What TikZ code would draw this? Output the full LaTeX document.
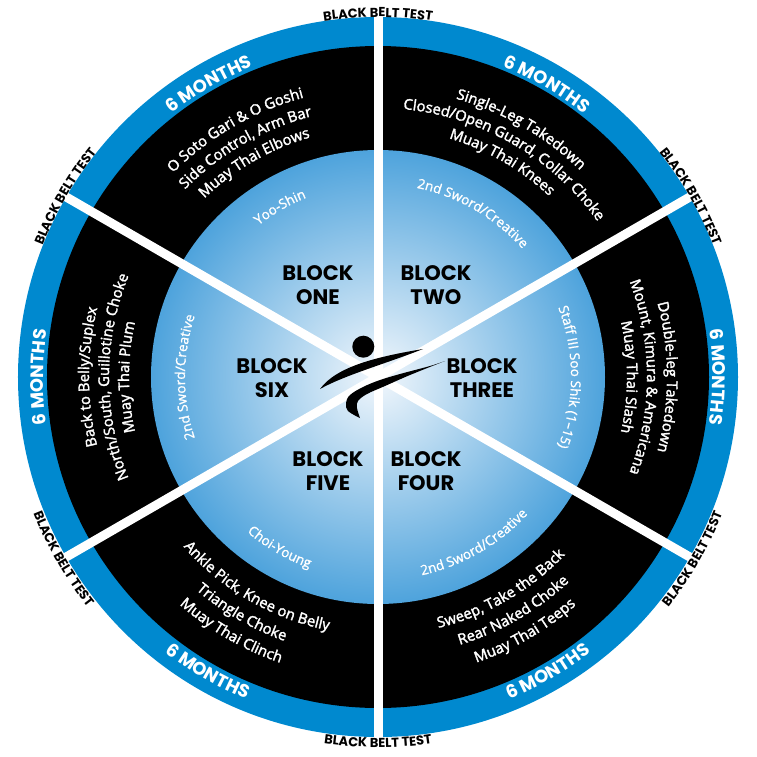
\documentclass[tikz,border=0pt]{standalone}
\usepackage{fontspec}
\newfontfamily\pop{Poppins}
\newfontfamily\osans{Open Sans}[FakeBold=2]
\newfontfamily\osansin{Open Sans}[FakeBold=1.2]
\usetikzlibrary{decorations.text}
\definecolor{ringblue}{RGB}{0,137,207}
\definecolor{discedge}{RGB}{78,163,220}
\definecolor{disccenter}{RGB}{242,247,252}
\pgfdeclareradialshading{discshade}{\pgfpoint{0bp}{0bp}}{color(0bp)=(disccenter); color(25bp)=(discedge); color(50bp)=(discedge)}
\newcommand\ringfmt{\osans\fontsize{14.8}{14.8}\selectfont\color{white}}
\newcommand\innerfmt{\osansin\fontsize{13.5}{13.5}\selectfont\color{white}}
\newcommand\monfmt{\pop\bfseries\fontsize{18}{18}\selectfont\color{white}}
\newcommand\bbtfmt{\pop\bfseries\fontsize{13}{13}\selectfont\color{black}}
\newcommand\cwtext[4]{%
  \path[decorate,decoration={text along path,text align=center,text={|#3|#4}}]
    ({#1+45}:#2) arc[start angle={#1+45}, end angle={#1-45}, radius=#2];}
\newcommand\ccwtext[4]{%
  \path[decorate,decoration={text along path,text align=center,text={|#3|#4}}]
    ({#1-45}:#2) arc[start angle={#1-45}, end angle={#1+45}, radius=#2];}
\tikzset{
  divider/.style={draw=white, line width=9pt},
  blocklbl/.style={align=center, inner sep=0pt, text=black,
    font=\pop\bfseries\fontsize{21}{24}\selectfont},
  logo/.style={fill=black}
}
\begin{document}
\begin{tikzpicture}[x=1pt,y=1pt]
\useasboundingbox (-378,-379) rectangle (379,377);
% rings
\fill[ringblue] (0,0) circle (360);
\fill[black] (0,0) circle (331);
\shade[shading=discshade] (0,0) circle (227);
% dividers
\draw[divider] (90:363) -- (-90:363);
\draw[divider] (30:363) -- (-150:363);
\draw[divider] (150:363) -- (-30:363);
% black belt test
\cwtext{90}{360}{\bbtfmt}{BLACK BELT TEST}
\cwtext{30}{360}{\bbtfmt}{BLACK BELT TEST}
\cwtext{150}{360}{\bbtfmt}{BLACK BELT TEST}
\ccwtext{-90}{370.5}{\bbtfmt}{BLACK BELT TEST}
\ccwtext{-30}{370.5}{\bbtfmt}{BLACK BELT TEST}
\ccwtext{-150}{370.5}{\bbtfmt}{BLACK BELT TEST}
% 6 months
\cwtext{120}{334.5}{\monfmt}{6 MONTHS}
\cwtext{60}{334.5}{\monfmt}{6 MONTHS}
\cwtext{0}{334.5}{\monfmt}{6 MONTHS}
\cwtext{180}{334.5}{\monfmt}{6 MONTHS}
\ccwtext{-60}{348}{\monfmt}{6 MONTHS}
\ccwtext{-120}{348}{\monfmt}{6 MONTHS}
% sector one
\cwtext{120}{289}{\ringfmt}{O Soto Gari {\&} O Goshi}
\cwtext{120}{269}{\ringfmt}{Side Control, Arm Bar}
\cwtext{120}{249}{\ringfmt}{Muay Thai Elbows}
% sector two
\cwtext{60}{289}{\ringfmt}{Single-Leg Takedown}
\cwtext{60}{269}{\ringfmt}{Closed/Open Guard, Collar Choke}
\cwtext{60}{249}{\ringfmt}{Muay Thai Knees}
% sector three
\cwtext{0}{289}{\ringfmt}{Double-leg Takedown}
\cwtext{0}{269}{\ringfmt}{Mount, Kimura {\&} Americana}
\cwtext{0}{249}{\ringfmt}{Muay Thai Slash}
% sector four
\ccwtext{-60}{258}{\ringfmt}{Sweep, Take the Back}
\ccwtext{-60}{280}{\ringfmt}{Rear Naked Choke}
\ccwtext{-60}{302}{\ringfmt}{Muay Thai Teeps}
% sector five
\ccwtext{-120}{258}{\ringfmt}{Ankle Pick, Knee on Belly}
\ccwtext{-120}{280}{\ringfmt}{Triangle Choke}
\ccwtext{-120}{302}{\ringfmt}{Muay Thai Clinch}
% sector six
\cwtext{180}{289}{\ringfmt}{Back to Belly/Suplex}
\cwtext{180}{269}{\ringfmt}{North/South, Guillotine Choke}
\cwtext{180}{249}{\ringfmt}{Muay Thai Plum}
% inner labels
\cwtext{120}{193}{\innerfmt}{Yoo-Shin}
\cwtext{60}{193}{\innerfmt}{2nd Sword/Creative}
\cwtext{0}{193}{\innerfmt}{Staff III Soo Shik (1–15)}
\ccwtext{-60}{203}{\innerfmt}{2nd Sword/Creative}
\ccwtext{-120}{203}{\innerfmt}{Choi-Young}
\cwtext{180}{193}{\innerfmt}{2nd Sword/Creative}
% block labels
\node[blocklbl] (b1) at (-60,92) {BLOCK\\ONE};
\node[blocklbl] (b2) at (58,92) {BLOCK\\TWO};
\node[blocklbl] (b3) at (104,-1) {BLOCK\\THREE};
\node[blocklbl] (b4) at (48,-94) {BLOCK\\FOUR};
\node[blocklbl] (b5) at (-50,-94) {BLOCK\\FIVE};
\node[blocklbl] (b6) at (-106,-1) {BLOCK\\SIX};
% logo
\fill[logo] (-14.7,30.3) circle (11);
\fill[logo] (-58,-12) .. controls (-42,10) and (-3,20) .. (45,28)
   .. controls (7,13) and (-33,2) .. (-58,-12) -- cycle;
\fill[logo] plot[smooth, tension=0.6] coordinates {(67,16) (52,11) (22,3) (2,-3) (-15,-10) (-28,-18) (-32,-26) (-30,-34) (-18,-41)}
   -- plot[smooth, tension=0.6] coordinates {(-18,-41) (-21,-31) (-20,-24) (-11,-17) (7,-9) (32,2) (67,16)} -- cycle;
\end{tikzpicture}
\end{document}
